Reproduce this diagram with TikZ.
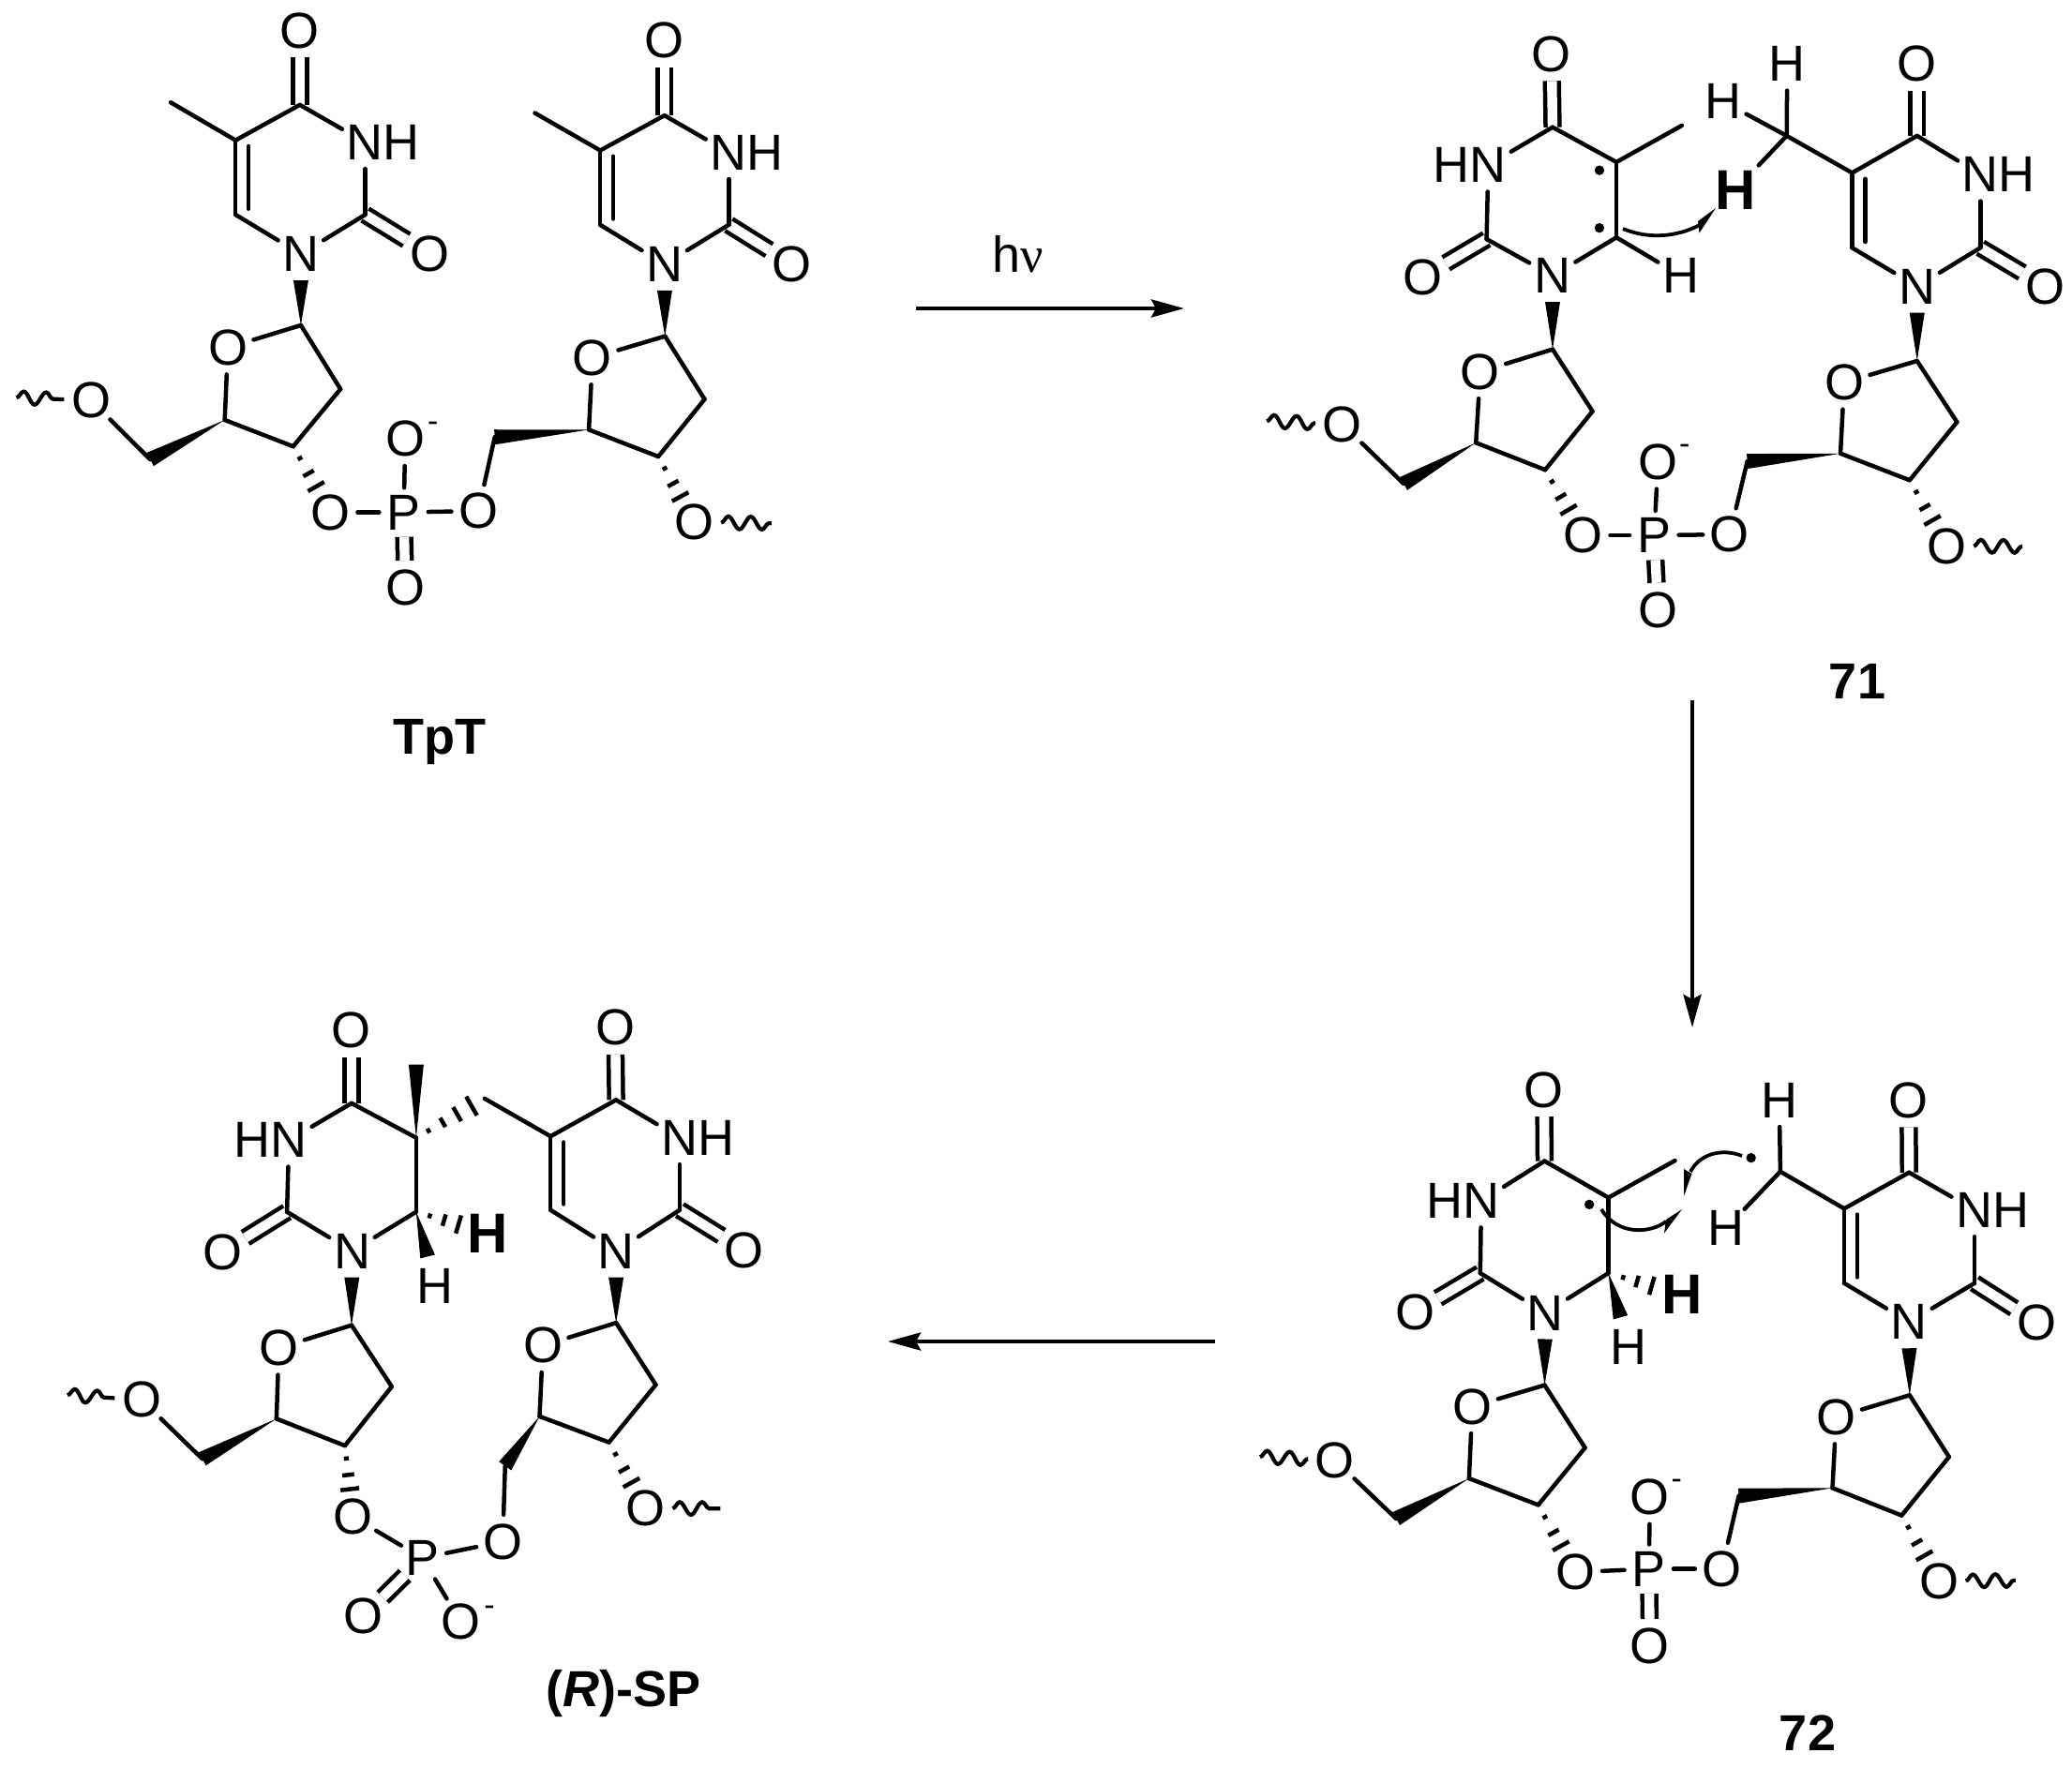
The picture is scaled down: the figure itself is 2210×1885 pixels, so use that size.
\documentclass[tikz,border=0pt]{standalone}
\usepackage{fontspec}
\setmainfont{Liberation Sans}
\newfontfamily\nufont{Liberation Serif}
\usetikzlibrary{calc,arrows.meta,decorations.pathmorphing}
\tikzset{
  atom/.style={circle,inner sep=0pt,minimum size=28pt,font=\fontsize{27}{30}\selectfont},
  patom/.style={atom,minimum size=24pt},
  batom/.style={atom,minimum size=36pt,font=\fontsize{30}{32}\selectfont\bfseries},
  charge/.style={inner sep=0pt,font=\fontsize{17}{18}\selectfont},
  bond/.style={line width=2.25pt,line cap=round},
  dbl/.style={line width=2.25pt,double,double distance=5.2pt},
  hashl/.style={line width=2.25pt},
  wavy/.style={line width=2.1pt,decorate,decoration={snake,segment length=12pt,amplitude=3.4pt}},
  radical/.style={circle,fill=black,inner sep=0pt,minimum size=5.2pt},
  curly/.style={line width=1.9pt},
  rxn/.style={line width=2.1pt,-{Stealth[length=17.5pt,width=9.5pt,inset=2.5pt]}},
  lbl/.style={inner sep=0pt,font=\fontsize{27}{30}\selectfont\bfseries},
  plain/.style={inner sep=0pt,font=\fontsize{27}{30}\selectfont},
  mol1/.style={shift={(0pt,0pt)},x=0.27427pt,y=-0.21684pt},
  mol2/.style={shift={(660pt,-10pt)},x=0.28377pt,y=-0.22959pt},
  mol3/.style={shift={(660pt,-560pt)},x=0.28377pt,y=-0.24390pt},
  mol4/.style={shift={(25pt,-530pt)},x=0.25510pt,y=-0.25189pt}
}
\newcommand\at[3]{\node[atom] (\m#1) at (#2) {#3};}
\newcommand\cc[2]{\coordinate (\m#1) at (#2);}
\newcommand\wdg[3]{%
  \coordinate (wtmp) at ($(#2)!#3!(#1)$);
  \fill ($(#1)$) -- ($(wtmp)!4pt!90:(#1)$) -- ($(wtmp)!4pt!-90:(#1)$) -- cycle;}
\newcommand\hsh[3]{%
  \foreach \p/\w in {#3}{
    \coordinate (htmp) at ($(#1)!\p!(#2)$);
    \draw[hashl] ($(htmp)!\w pt!90:(#2)$) -- ($(htmp)!\w pt!-90:(#2)$);
  }}
\newcommand\innerline[1]{%
  \draw[bond] ($(\m#1C5)!.08!(\m#1C6)+(7pt,0)$) -- ($(\m#1C5)!.92!(\m#1C6)+(7pt,0)$);}
\newcommand\unit[1]{%
  \draw[dbl] (\m#1C4) -- (\m#1O4);
  \draw[dbl] (\m#1C2) -- (\m#1O2);
  \foreach \u/\v in {C4/N3,N3/C2,C2/N1,N1/C6,C6/C5,C5/C4,S1/SO,SO/S4,S4/S3,S3/S2,S2/S1,S5/O5}
    \draw[bond] (\m#1\u) -- (\m#1\v);
  \wdg{\m#1S1}{\m#1N1}{14pt}
  \wdg{\m#1S4}{\m#1S5}{0pt}
  \hsh{\m#1S3}{\m#1O3}{.18/1.3,.41/3.2,.61/5}
}
\newcommand\phos{%
  \draw[dbl] (\m P) -- (\m Oe);
  \draw[bond] (\m aO3) -- (\m P);
  \draw[bond] (\m P) -- (\m bO5);
  \draw[bond] (\m P) -- (\m Om);
  \draw[wavy] (\m wl) -- (\m aO5);
  \draw[wavy] (\m bO3) -- (\m wr);
}
\begin{document}
\begin{tikzpicture}[x=0.5pt,y=-0.5pt]
\useasboundingbox (0,0) rectangle (2210,1885);
\fill[white] (0,0) rectangle (2210,1885);

% ---------- TpT
\begin{scope}[mol1]
\def\m{p}
\at{aO4}{583,75}{O} \cc{aC4}{583,258} \at{aN3}{710,350}{N\rlap{H}} \cc{aC2}{710,528}
\at{aO2}{835,625}{O} \at{aN1}{585,625}{N} \cc{aC6}{458,528} \cc{aC5}{458,345} \cc{aMe}{332,252}
\cc{aS1}{585,800} \at{aSO}{443,855}{O} \cc{aS4}{437,1033} \cc{aS3}{570,1098} \cc{aS2}{662,957}
\cc{aS5}{292,1130} \at{aO5}{177,985}{O} \at{aO3}{643,1260}{O}
\node[patom] (pP) at (785,1260) {P};
\at{Om}{788,1080}{O} \node[charge] (pminus) at (842,1050) {-};
\at{Oe}{788,1445}{O}
\at{bO4}{1292,100}{O} \cc{bC4}{1292,284} \at{bN3}{1417,375}{N\rlap{H}} \cc{bC2}{1417,553}
\at{bO2}{1540,650}{O} \at{bN1}{1292,650}{N} \cc{bC6}{1167,553} \cc{bC5}{1167,370} \cc{bMe}{1040,278}
\cc{bS1}{1293,827} \at{bSO}{1152,880}{O} \cc{bS4}{1145,1057} \cc{bS3}{1280,1123} \cc{bS2}{1370,982}
\cc{bS5}{962,1075} \at{bO5}{930,1257}{O} \at{bO3}{1350,1285}{O}
\cc{wl}{32,978} \cc{wr}{1500,1287}
\unit{a} \unit{b} \phos
\innerline{a} \innerline{b}
\draw[bond] (paC5) -- (paMe);
\draw[bond] (pbC5) -- (pbMe);
\end{scope}

% ---------- 71
\begin{scope}[mol2]
\def\m{q}
\at{aO4}{590,82}{O} \cc{aC4}{592,252} \at{aN3}{471,340}{\llap{H}N} \cc{aC2}{468,512}
\at{aO2}{348,600}{O} \at{aN1}{592,597}{N} \cc{aC6}{712,508} \cc{aC5}{712,333} \cc{aMe}{835,248}
\at{aH6}{833,597}{H}
\node[radical] (qd1) at (680,352) {}; \node[radical] (qd2) at (680,486) {};
\cc{aS1}{592,768} \at{aSO}{456,820}{O} \cc{aS4}{448,985} \cc{aS3}{578,1048} \cc{aS2}{667,912}
\cc{aS5}{312,1080} \at{aO5}{197,942}{O} \at{aO3}{650,1200}{O}
\node[patom] (qP) at (783,1200) {P};
\at{Om}{790,1030}{O} \node[charge] (qminus) at (840,1000) {-};
\at{Oe}{790,1373}{O}
\at{bO4}{1277,105}{O} \cc{bC4}{1277,272} \at{bN3}{1396,362}{N\rlap{H}} \cc{bC2}{1396,532}
\at{bO2}{1518,622}{O} \at{bN1}{1277,622}{N} \cc{bC6}{1155,532} \cc{bC5}{1155,358} \cc{bMe}{1032,272}
\at{bHt}{1033,105}{H} \at{bHl}{912,192}{H} \node[batom] (qbHb) at (935,398) {H};
\cc{bS1}{1277,795} \at{bSO}{1140,845}{O} \cc{bS4}{1133,1010} \cc{bS3}{1263,1072} \cc{bS2}{1352,937}
\cc{bS5}{958,1028} \at{bO5}{925,1198}{O} \at{bO3}{1333,1225}{O}
\cc{wl}{55,935} \cc{wr}{1475,1226}
\unit{a} \unit{b} \phos
\innerline{b}
\foreach \u/\v in {aC5/aMe,aC6/aH6,bC5/bMe,bMe/bHt,bMe/bHl,bMe/bHb}
  \draw[bond] (q\u) -- (q\v);
\end{scope}

% ---------- 72
\begin{scope}[mol3]
\def\m{r}
\at{aO4}{576,87}{O} \cc{aC4}{577,243} \at{aN3}{458,330}{\llap{H}N} \cc{aC2}{456,488}
\at{aO2}{333,573}{O} \at{aN1}{578,575}{N} \cc{aC6}{697,488} \cc{aC5}{697,323} \cc{aMe}{822,242}
\at{aH6}{735,650}{H} \node[batom] (raHb) at (835,535) {H};
\node[radical] (rd1) at (661,338) {}; \node[radical] (rd2) at (965,236) {};
\cc{aS1}{577,733} \at{aSO}{441,780}{O} \cc{aS4}{435,937} \cc{aS3}{565,995} \cc{aS2}{653,870}
\cc{aS5}{298,1025} \at{aO5}{183,897}{O} \at{aO3}{635,1142}{O}
\node[patom] (rP) at (773,1135) {P};
\at{Om}{775,978}{O} \node[charge] (rminus) at (825,950) {-};
\at{Oe}{775,1303}{O}
\at{bO4}{1261,110}{O} \cc{bC4}{1262,268} \at{bN3}{1385,350}{N\rlap{H}} \cc{bC2}{1385,510}
\at{bO2}{1502,597}{O} \at{bN1}{1262,595}{N} \cc{bC6}{1140,510} \cc{bC5}{1140,347} \cc{bMe}{1020,266}
\at{bHt}{1018,110}{H} \at{bHl}{918,390}{H}
\cc{bS1}{1263,755} \at{bSO}{1125,803}{O} \cc{bS4}{1118,958} \cc{bS3}{1248,1018} \cc{bS2}{1337,890}
\cc{bS5}{942,975} \at{bO5}{910,1135}{O} \at{bO3}{1318,1162}{O}
\cc{wl}{42,890} \cc{wr}{1462,1160}
\unit{a} \unit{b} \phos
\innerline{b}
\foreach \u/\v in {aC5/aMe,bC5/bMe,bMe/bHt,bMe/bHl}
  \draw[bond] (r\u) -- (r\v);
\wdg{raC6}{raH6}{16.5pt}
\hsh{raC6}{raHb}{.2/1.3,.39/3.2,.59/5}
\end{scope}

% ---------- (R)-SP
\begin{scope}[mol4]
\def\m{s}
\at{aO4}{637,77}{O} \cc{aC4}{637,232} \at{aN3}{506,310}{\llap{H}N} \cc{aC2}{502,462}
\at{aO2}{367,547}{O} \at{aN1}{638,545}{N} \cc{aC6}{772,462} \cc{aC5}{772,305} \cc{aMe}{772,150}
\at{aH6}{812,620}{H} \node[batom] (saHb) at (922,507) {H}; \cc{aCH}{915,222}
\cc{aS1}{637,702} \at{aSO}{485,750}{O} \cc{aS4}{480,900} \cc{aS3}{623,957} \cc{aS2}{721,832}
\cc{aS5}{325,985} \at{aO5}{198,860}{O} \at{aO3}{640,1108}{O}
\node[patom] (sP) at (785,1195) {P};
\at{Om}{865,1330}{O} \node[charge] (sminus) at (925,1306) {-};
\at{Oe}{662,1318}{O}
\at{bO4}{1188,72}{O} \cc{bC4}{1190,225} \at{bN3}{1323,305}{N\rlap{H}} \cc{bC2}{1323,458}
\at{bO2}{1458,543}{O} \at{bN1}{1190,545}{N} \cc{bC6}{1053,458} \cc{bC5}{1053,302}
\cc{bS1}{1190,697} \at{bSO}{1037,745}{O} \cc{bS4}{1030,895} \cc{bS3}{1175,950} \cc{bS2}{1273,828}
\cc{bS5}{958,1000} \at{bO5}{953,1160}{O} \at{bO3}{1252,1090}{O}
\cc{wl}{43,850} \cc{wr}{1408,1090}
\unit{a} \unit{b} \phos
\innerline{b}
\draw[bond] (saCH) -- (sbC5);
\wdg{saC5}{saMe}{0pt}
\wdg{saC6}{saH6}{16.5pt}
\hsh{saC6}{saHb}{.19/1.3,.39/3.2,.59/5}
\hsh{saC5}{saCH}{.18/1.3,.39/2.8,.6/4.3,.81/5.8}
\end{scope}

% ---------- labels
\node[lbl] (lTpT) at (469,792) {TpT};
\node[lbl] (l71) at (1981,727) {71};
\node[lbl] (l72) at (1928,1849) {72};
\node[lbl] (lSP) at (665,1807) {(\textit{R})-SP};
\node[plain,anchor=base] (lhv) at (1086,290) {\sffamily\fontspec{Liberation Sans}h{\nufont ν}};

% ---------- reaction arrows
\coordinate (a1s) at (977,329); \coordinate (a1e) at (1263,329);
\coordinate (a2s) at (1805,747); \coordinate (a2e) at (1805,1096);
\coordinate (a3s) at (1296,1431); \coordinate (a3e) at (947,1431);
\draw[rxn] (a1s) -- (a1e);
\draw[rxn] (a2s) -- (a2e);
\draw[rxn] (a3s) -- (a3e);

% ---------- curved half arrows
\coordinate (c1s) at (1731,244); \coordinate (c1e) at (1813,240); \coordinate (c1t) at (1830,222);
\draw[curly] (c1s) .. controls (1760,256) and (1790,252) .. (c1e);
\fill (c1t) -- (1812.5,248.5) -- (1811,236) -- cycle;
\coordinate (c2s) at (1858,1233); \coordinate (c2e) at (1803,1250); \coordinate (c2t) at (1796,1276);
\draw[curly] (c2s) .. controls (1835,1224) and (1812,1232) .. (c2e);
\fill (c2t) -- (1796,1247) -- (1804.5,1252) -- cycle;
\coordinate (c3s) at (1708,1290); \coordinate (c3e) at (1777,1303); \coordinate (c3t) at (1794,1290);
\draw[curly] (c3s) .. controls (1725,1318) and (1760,1316) .. (c3e);
\fill (c3t) -- (1775,1315.5) -- (1777,1301) -- cycle;
\end{tikzpicture}
\end{document}
